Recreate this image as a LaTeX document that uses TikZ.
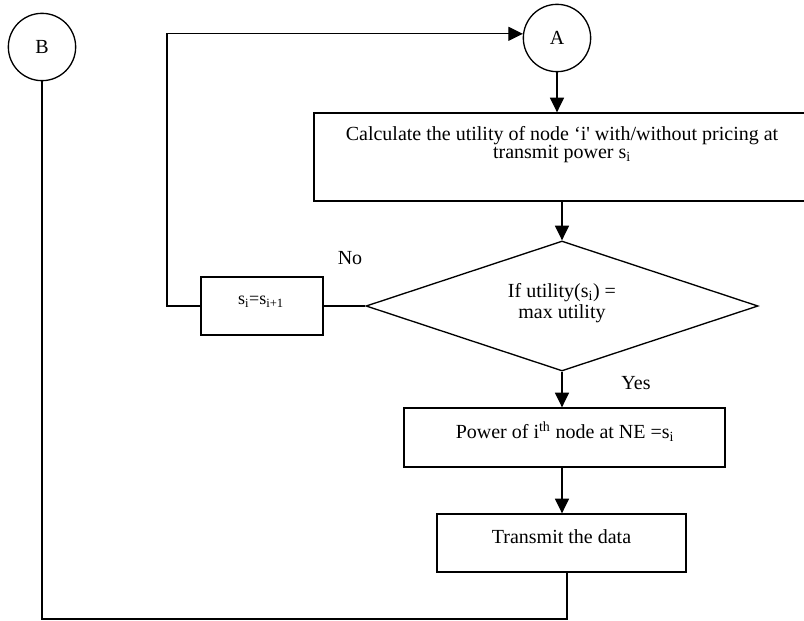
\documentclass[tikz,border=0pt]{standalone}
\usepackage{fontspec}
\setmainfont{Liberation Serif}
\usetikzlibrary{shapes.geometric,arrows.meta}
\begin{document}
\begin{tikzpicture}[x=0.75pt,y=-0.75pt,
  every node/.style={font=\fontsize{15}{13.5}\selectfont},
  conn/.style={line width=1pt},
  arrow/.style={conn,-{Triangle[width=10.5pt,length=11pt]}},
  circ/.style={draw,line width=1pt,circle,minimum size=50.5pt,inner sep=0pt},
  block/.style={draw,line width=1pt,rectangle,inner sep=0pt},
  decision/.style={draw,line width=1pt,diamond,inner sep=0pt},
  txt/.style={inner sep=0pt,align=center}]
\useasboundingbox (0,0) rectangle (804,621);

% connector circles
\node[circ] (B) at (42,47) {B};
\node[circ] (A) at (557,38) {A};

% process blocks
\node[block,minimum width=372pt,minimum height=66pt] (calc) at (562,157) {};
\node[txt,anchor=north] (calctxt) at (562,126)
  {Calculate the utility of node ‘i\textquotesingle{} with/without pricing at\\
   transmit power s\textsubscript{i}};

\node[decision,minimum width=294pt,minimum height=97.5pt] (diam) at (562,306) {};
\node[txt,font=\fontsize{15}{15.5}\selectfont] (diamtxt) at (562,303)
  {If utility(s\textsubscript{i}) =\\max utility};

\node[block,minimum width=91.5pt,minimum height=43.5pt] (sbox) at (262,306) {};
\node[txt,font=\fontsize{13.5}{15}\selectfont] (stxt) at (261,302)
  {s\textsubscript{i}=s\textsubscript{i+1}};

\node[block,minimum width=240.75pt,minimum height=44.25pt] (power) at (564.5,437.5) {};
\node[txt] (powertxt) at (565,432)
  {Power of i\textsuperscript{th} node at NE =s\textsubscript{i}};

\node[block,minimum width=186.75pt,minimum height=43.5pt] (trans) at (561.5,543) {};
\node[txt] (transtxt) at (561.5,537) {Transmit the data};

% branch labels
\node[txt] (no) at (350,258) {No};
\node[txt] (yes) at (636,383) {Yes};

% flow
\coordinate (loopcorner) at (167,306);
\coordinate (bcorner) at (567,619);
\draw[arrow] (A.south) -- (A.south |- calc.north);
\draw[arrow] (calc.south -| diam.north) -- (diam.north);
\draw[arrow] (diam.south) -- (diam.south |- power.north);
\draw[arrow] (power.south -| diam.south) -- (diam.south |- trans.north);
\draw[conn] (diam.west) -- (sbox.east);
\draw[arrow] (sbox.west) -- (sbox.west -| loopcorner) |- (A.173);
\draw[conn] (trans.south -| bcorner) -- (bcorner) -| (B.south);
\end{tikzpicture}
\end{document}
